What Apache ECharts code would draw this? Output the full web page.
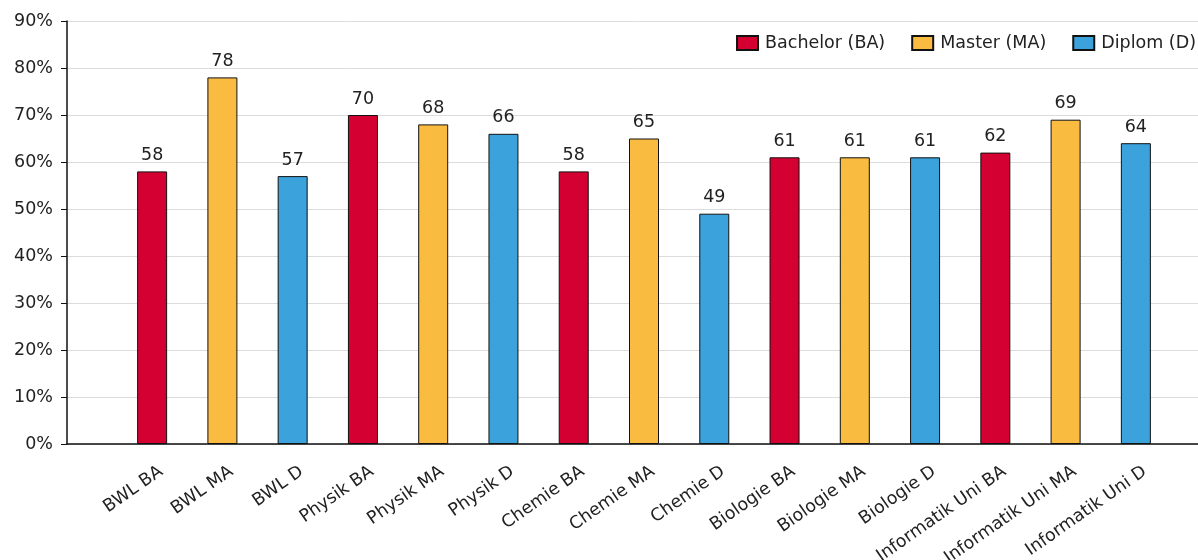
<!DOCTYPE html>
<html>
<head>
<meta charset="utf-8">
<script src="https://cdn.jsdelivr.net/npm/echarts@6/dist/echarts.min.js"></script>
<style>
  html, body { margin: 0; padding: 0; background: #fff; }
  #chart { width: 1198px; height: 560px; }
</style>
</head>
<body>
<div id="chart"></div>
<script>
// Study programmes along the x axis
const categories = [
  'BWL BA', 'BWL MA', 'BWL D',
  'Physik BA', 'Physik MA', 'Physik D',
  'Chemie BA', 'Chemie MA', 'Chemie D',
  'Biologie BA', 'Biologie MA', 'Biologie D',
  'Informatik Uni BA', 'Informatik Uni MA', 'Informatik Uni D'
];
// Share in percent per programme
const values = [58, 78, 57, 70, 68, 66, 58, 65, 49, 61, 61, 61, 62, 69, 64];
// Degree type of each programme (index into degreeNames)
const degreeOf = [0, 1, 2, 0, 1, 2, 0, 1, 2, 0, 1, 2, 0, 1, 2];
const degreeNames = ['Bachelor (BA)', 'Master (MA)', 'Diplom (D)'];
const degreeColors = ['#d50032', '#f9bc40', '#3ca2dc'];
// Y axis scale
const yMin = 0, yMax = 90, yStep = 10;

const FONT = '"DejaVu Sans", Verdana, sans-serif';
const FS = 17.5;
const TEXT = '#222';

// Plot frame (axes + grid lines) and the narrower band that holds the bars
const frame = { left: 67, right: 0, top: 21, bottom: 116, outerBoundsMode: 'none' };
const band = { left: 117, right: 27, top: 21, bottom: 116, outerBoundsMode: 'none' };
// Category labels sit slightly right of the bar centres
const labelShift = 9;

const series = degreeNames.map((name, d) => ({
  name: name,
  type: 'bar',
  xAxisIndex: 1,
  yAxisIndex: 1,
  stack: 'all',
  barWidth: 30,
  data: values.map((v, i) => (degreeOf[i] === d ? v : '-')),
  itemStyle: { color: degreeColors[d], borderColor: '#111', borderWidth: 1 },
  label: {
    show: true,
    position: 'top',
    distance: 7,
    color: TEXT,
    fontFamily: FONT,
    fontSize: FS
  }
}));

const chart = echarts.init(document.getElementById('chart'), null, { renderer: 'canvas' });
chart.setOption({
  animation: false,
  backgroundColor: '#fff',
  textStyle: { fontFamily: FONT },
  grid: [
    frame,
    band,
    {
      left: band.left + labelShift,
      right: band.right - labelShift,
      top: band.top,
      bottom: band.bottom,
      outerBoundsMode: 'none'
    }
  ],
  legend: {
    right: 2,
    top: 34,
    padding: 0,
    icon: 'rect',
    itemWidth: 21,
    itemHeight: 14,
    itemGap: 26,
    textStyle: { color: TEXT, fontFamily: FONT, fontSize: FS, padding: [0, 0, 0, 2] },
    data: degreeNames
  },
  xAxis: [
    {
      gridIndex: 0,
      type: 'value',
      min: 0,
      max: 1,
      axisLine: { show: true, onZero: false, lineStyle: { color: '#111', width: 1.5 } },
      axisTick: { show: false },
      axisLabel: { show: false },
      splitLine: { show: false }
    },
    {
      gridIndex: 1,
      type: 'category',
      data: categories,
      axisLine: { show: false },
      axisTick: { show: false },
      axisLabel: { show: false }
    },
    {
      gridIndex: 2,
      type: 'category',
      data: categories,
      axisLine: { show: false },
      axisTick: { show: false },
      axisLabel: {
        rotate: 35,
        margin: 26,
        interval: 0,
        color: TEXT,
        fontFamily: FONT,
        fontSize: FS
      }
    }
  ],
  yAxis: [
    {
      gridIndex: 0,
      type: 'value',
      min: yMin,
      max: yMax,
      interval: yStep,
      axisLine: { show: true, lineStyle: { color: '#111', width: 1.5 } },
      axisTick: { show: true, length: 6, lineStyle: { color: '#111' } },
      axisLabel: {
        formatter: '{value}%',
        margin: 14,
        color: TEXT,
        fontFamily: FONT,
        fontSize: FS
      },
      splitLine: { show: true, lineStyle: { color: '#dcdcdc', width: 1 } }
    },
    {
      gridIndex: 1,
      type: 'value',
      min: yMin,
      max: yMax,
      interval: yStep,
      show: false,
      splitLine: { show: false }
    },
    {
      gridIndex: 2,
      type: 'value',
      min: yMin,
      max: yMax,
      interval: yStep,
      show: false,
      splitLine: { show: false }
    }
  ],
  series: series
});
</script>
</body>
</html>
